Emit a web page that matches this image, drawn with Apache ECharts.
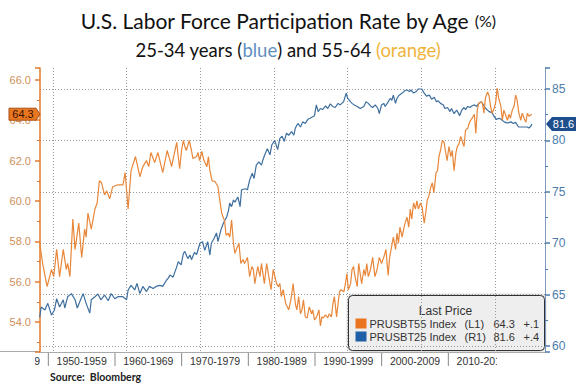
<!DOCTYPE html>
<html><head><meta charset="utf-8">
<script src="https://cdn.jsdelivr.net/npm/echarts@6/dist/echarts.min.js"></script>
<style>html,body{margin:0;padding:0;background:#fff}#c{width:576px;height:388px}</style>
</head><body><div id="c"></div>
<script>
// PRUSBT55 : 55-64 years (left axis, orange)
const years55 = [
1948.2,1948.6,1949.2,1949.8,1950.1,1950.5,1950.9,1951.4,1951.8,1952.0,
1952.3,1952.7,1953.0,1953.5,1953.9,1954.3,1954.5,1954.75,1955.2,1955.7,
1956.0,1956.3,1956.6,1957.0,1957.3,1957.7,1958.1,1958.8,1959.5,1959.8,
1960.2,1960.6,1961.2,1961.8,1962.2,1962.7,1963.0,1963.3,1963.8,1964.25,
1964.9,1965.5,1965.9,1966.1,1966.5,1966.8,1967.0,1967.2,1967.45,1967.7,
1967.9,1968.1,1968.5,1968.8,1969.0,1969.5,1969.7,1969.9,1970.2,1970.5,
1970.9,1971.1,1971.3,1971.6,1972.0,1972.4,1972.7,1972.9,1973.3,1973.5,
1973.8,1974.0,1974.25,1974.5,1974.7,1974.9,1975.25,1975.5,1975.8,1976.0,
1976.4,1976.7,1977.0,1977.2,1977.4,1977.8,1978.1,1978.3,1978.7,1979.0,
1979.3,1979.6,1979.9,1980.35,1980.6,1980.8,1981.0,1981.25,1981.6,1982.0,
1982.3,1982.6,1982.9,1983.1,1983.35,1983.6,1983.8,1984.0,1984.25,1984.5,
1984.8,1985.1,1985.25,1985.5,1985.8,1986.1,1986.3,1986.5,1986.7,1987.0,
1987.3,1987.5,1987.8,1988.0,1988.2,1988.5,1988.7,1988.9,1989.1,1989.5,
1989.7,1989.9,1990.1,1990.4,1990.6,1990.8,1991.0,1991.3,1991.5,1991.7,
1991.9,1992.2,1992.4,1992.6,1992.8,1993.1,1993.4,1993.7,1994.0,1994.3,
1994.6,1994.9,1995.2,1995.5,1995.7,1995.9,1996.2,1996.5,1996.7,1996.9,
1997.1,1997.4,1997.6,1997.8,1998.05,1998.3,1998.5,1998.7,1998.95,1999.2,
1999.4,1999.6,1999.9,2000.1,2000.4,2000.6,2000.8,2001.0,2001.3,2001.5,
2001.7,2002.0,2002.2,2002.4,2002.6,2002.85,2003.1,2003.3,2003.5,2003.75,
2004.0,2004.2,2004.45,2004.7,2004.9,2005.1,2005.35,2005.6,2005.8,2006.0,
2006.3,2006.5,2006.7,2006.9,2007.2,2007.4,2007.6,2007.8,2008.1,2008.3,
2008.5,2008.7,2009.0,2009.2,2009.4,2009.6,2009.9,2010.1,2010.3,2010.5,
2010.8,2011.0,2011.2,2011.5,2011.7,2011.9,2012.1,2012.35,2012.6,2012.8,
2013.0,2013.25,2013.5,2013.7,2013.95,2014.2,2014.4,2014.6,2015.0
];
const rate55 = [
57.9,56.9,55.75,56.6,56.25,57.6,56.25,57.6,56.6,56.9,
56.25,59.1,57.6,58.9,57.2,58.6,58.2,59.4,58.6,59.6,
59.9,61.0,60.9,60.3,60.5,60.1,60.7,60.8,60.8,61.4,
59.6,61.5,62.2,61.2,61.7,62.0,61.7,62.4,61.9,62.4,
61.4,62.5,62.0,61.7,62.4,62.9,62.2,61.6,62.5,63.0,
62.7,62.5,63.0,62.5,62.1,62.2,62.4,62.0,62.45,62.0,
61.7,62.2,61.5,61.0,60.96,60.7,59.9,59.4,59.0,58.3,
58.4,58.2,59.05,57.9,57.4,57.6,57.9,56.9,57.1,56.9,
57.2,56.25,56.75,56.6,55.9,56.75,56.25,56.9,55.9,56.9,
56.25,55.6,56.6,55.9,55.75,55.9,55.26,55.6,54.9,54.6,
55.1,55.9,54.9,54.6,55.26,54.4,54.6,55.1,54.25,54.2,
54.75,54.4,54.6,54.1,54.25,54.6,53.8,54.25,54.2,54.35,
54.2,54.4,54.25,54.9,55.26,54.25,54.9,55.5,55.6,55.5,
55.9,56.4,55.6,55.9,56.6,56.75,56.25,55.75,56.9,56.4,
55.9,56.6,56.3,56.9,56.25,56.6,57.2,56.25,56.6,57.2,
56.9,57.2,57.6,56.3,57.2,57.6,58.2,57.6,58.4,57.9,
58.7,58.2,58.6,58.9,59.2,58.7,59.6,59.1,59.9,59.6,
60.0,59.6,59.9,59.7,58.9,59.4,60.05,60.2,60.7,60.9,
60.4,61.4,61.5,62.2,62.5,63.0,62.9,62.4,62.0,62.7,
62.2,62.5,61.5,62.4,62.7,62.8,63.2,62.9,62.7,63.5,
63.6,63.85,64.0,64.1,64.3,63.35,64.5,64.85,64.9,64.85,
64.35,65.1,65.4,65.2,64.7,64.35,64.6,64.9,65.6,65.1,
64.7,64.0,64.5,64.2,64.0,64.3,64.1,64.5,64.7,65.25,
65.0,64.35,64.0,64.35,64.1,63.9,64.35,64.2,64.3
];
// PRUSBT25 : 25-34 years (right axis, blue)
const years25 = [
1948.2,1948.4,1948.9,1949.3,1949.8,1950.2,1950.5,1950.9,1951.4,1951.6,
1952.0,1952.5,1953.0,1953.3,1953.75,1954.1,1954.5,1955.0,1955.2,1955.7,
1956.1,1956.5,1957.0,1957.5,1957.9,1958.4,1958.8,1959.5,1960.0,1960.2,
1960.6,1961.1,1961.4,1961.8,1962.2,1962.7,1963.1,1963.6,1964.0,1964.5,
1964.9,1965.4,1965.65,1965.9,1966.3,1966.8,1967.0,1967.4,1967.7,1967.9,
1968.3,1968.6,1968.8,1969.2,1969.5,1969.95,1970.3,1970.6,1971.0,1971.3,
1971.5,1971.9,1972.2,1972.4,1972.8,1973.1,1973.6,1973.8,1974.0,1974.25,
1974.5,1974.7,1975.1,1975.4,1975.6,1976.1,1976.4,1976.7,1977.05,1977.3,
1977.6,1977.95,1978.3,1978.5,1978.75,1979.1,1979.45,1979.7,1980.1,1980.5,
1980.8,1981.1,1981.4,1981.7,1982.0,1982.4,1982.7,1982.9,1983.25,1983.6,
1983.9,1984.25,1984.6,1984.9,1985.25,1985.5,1985.75,1986.0,1986.3,1986.6,
1987.0,1987.3,1987.65,1987.95,1988.3,1988.7,1989.0,1989.2,1989.45,1989.8,
1990.0,1990.4,1990.6,1990.9,1991.3,1991.7,1992.2,1992.5,1992.8,1993.1,
1993.4,1993.75,1994.1,1994.3,1994.6,1994.9,1995.1,1995.5,1995.8,1996.0,
1996.2,1996.5,1996.7,1997.0,1997.4,1997.8,1998.05,1998.4,1998.6,1998.95,
1999.3,1999.6,2000.06,2000.4,2000.7,2001.1,2001.4,2001.75,2002.05,2002.3,
2002.6,2003.0,2003.2,2003.55,2003.9,2004.1,2004.45,2004.8,2005.0,2005.2,
2005.5,2005.8,2006.0,2006.3,2006.6,2006.85,2007.2,2007.5,2007.8,2008.1,
2008.3,2008.5,2008.75,2009.2,2009.6,2009.9,2010.2,2010.6,2010.9,2011.25,
2011.6,2011.8,2012.15,2012.5,2012.8,2013.2,2013.5,2013.8,2014.1,2014.4,
2014.6,2014.9,2015.0
];
const rate25 = [
62.8,63.8,63.5,64.15,63.0,63.5,64.6,63.8,64.5,63.7,
64.8,65.1,64.5,63.7,64.5,65.1,64.15,63.2,64.5,64.8,
65.06,64.5,64.96,64.4,65.1,64.6,64.8,64.8,64.5,65.45,
65.9,65.45,66.1,65.1,65.8,65.3,65.8,65.6,65.8,65.9,
65.8,66.4,66.6,66.9,66.7,67.7,68.2,67.9,69.0,69.2,
68.5,68.85,68.4,69.1,68.9,70.0,70.15,69.3,70.15,68.85,
70.0,70.5,71.0,70.15,71.3,71.9,72.6,73.1,73.9,73.55,
74.2,74.0,74.5,73.55,75.2,75.3,75.2,76.15,76.8,76.3,
77.6,77.9,77.6,78.1,78.6,79.2,78.6,79.55,80.0,79.1,
80.2,80.4,79.9,80.7,80.5,80.85,80.5,81.2,81.65,81.3,
81.8,81.65,82.05,82.15,82.3,82.4,83.45,82.8,83.1,83.0,
83.35,83.1,83.55,83.3,83.2,83.6,83.45,83.6,83.75,84.6,
84.1,83.75,83.6,83.45,83.3,83.1,83.3,83.75,83.6,83.35,
83.2,83.45,83.1,82.6,83.45,83.6,83.3,83.75,84.1,83.9,
84.4,83.6,84.1,84.4,84.6,84.85,84.9,84.75,84.9,84.6,
84.75,85.0,85.0,84.6,84.3,84.4,84.0,84.2,83.75,83.85,
83.6,83.45,83.1,83.2,82.8,83.1,82.6,82.95,82.7,82.4,
82.95,83.2,83.0,83.3,83.2,83.35,83.45,83.3,83.6,83.75,
83.6,83.35,83.1,82.8,82.7,82.3,82.05,82.15,82.0,81.8,
81.7,81.7,81.8,81.65,81.75,81.3,81.3,81.3,81.3,81.3,
81.2,81.4,81.6
];
const decadeStarts = [1940,1950,1960,1970,1980,1990,2000,2010];
const seriesNames = ['PRUSBT55 Index','PRUSBT25 Index'];
const axisTags = ['(L1)','(R1)'];
const changes = ['+.1','+.4'];

const C_OR = '#e8873a', C_BL = '#3e6f9f';
const last55 = rate55[rate55.length-1], last25 = rate25[rate25.length-1];
const FONT = 'Liberation Sans';
const dotted = {color:'#9a9a9a', type:[1,2], width:1};

const chart = echarts.init(document.getElementById('c'), null, {renderer:'svg'});
const tw = {fontFamily:'Lato', fontWeight:'normal', color:'#111'};
const option = {
  animation:false,
  backgroundColor:'#ffffff',
  title:[
    {text:'{m|U.S. Labor Force Participation Rate by Age }{p|(%)}', left:'center', top:5,
     textStyle:{fontWeight:'normal', rich:{m:Object.assign({fontSize:21}, tw), p:Object.assign({fontSize:16}, tw)}}},
    {text:'{k|25-34 years (}{b|blue}{k|) and 55-64 }{o|(orange)}', left:'center', top:35,
     textStyle:{fontWeight:'normal', rich:{k:Object.assign({fontSize:18.5}, tw), b:Object.assign({}, tw, {fontSize:18.5, color:'#5f8fc0'}), o:Object.assign({}, tw, {fontSize:18.5, color:'#f0b43c'})}}}
  ],
  grid:[
    {left:40, right:31, top:68, bottom:36, containLabel:false, outerBoundsMode:'none'},
    {left:35, right:79, top:352, height:20, containLabel:false, outerBoundsMode:'none'}
  ],
  xAxis:[
    {type:'value', gridIndex:0, min:1948.24, max:2016.79, minInterval:10, maxInterval:10,
     axisLine:{show:true, lineStyle:{color:'#aaaaaa', width:1}}, axisTick:{show:false}, axisLabel:{show:false},
     splitLine:{show:true, showMinLine:false, showMaxLine:false, lineStyle:dotted}},
    {type:'value', gridIndex:1, min:1948.0, max:2017.3, show:false}
  ],
  yAxis:[
    {type:'value', gridIndex:0, position:'left', min:52.51, max:66.59, minInterval:2, maxInterval:2,
     axisLine:{show:true, lineStyle:{color:'#e07b2e', width:1.5}},
     axisTick:{show:true, length:5, lineStyle:{color:'#e07b2e', width:1.5}},
     minorTick:{show:true, splitNumber:2, length:3, lineStyle:{color:'#e07b2e', width:1}},
     axisLabel:{showMinLabel:false, showMaxLabel:false, formatter:v=>v.toFixed(1), color:'#cf8f5a', fontSize:11, fontFamily:FONT, margin:9},
     splitLine:{show:false}},
    {type:'value', gridIndex:0, position:'right', min:59.42, max:87.04, minInterval:5, maxInterval:5,
     axisLine:{show:true, lineStyle:{color:'#7d9cc0', width:1}},
     axisTick:{show:true, length:5, lineStyle:{color:'#4c7bab', width:1.5}},
     minorTick:{show:true, splitNumber:2, length:3, lineStyle:{color:'#4c7bab', width:1}},
     axisLabel:{showMinLabel:false, showMaxLabel:false, formatter:v=>String(Math.round(v)), color:'#4c7bab', fontSize:12, fontFamily:FONT, margin:7},
     splitLine:{show:true, showMinLine:false, showMaxLine:false, lineStyle:dotted}},
    {type:'value', gridIndex:1, min:0, max:1, show:false}
  ],
  series:[
    {name:seriesNames[1], type:'line', xAxisIndex:0, yAxisIndex:1, showSymbol:false, symbol:'none', silent:true,
     data: years25.map((y,i)=>[y, rate25[i]]), lineStyle:{color:C_BL, width:1.2}, z:3},
    {name:seriesNames[0], type:'line', xAxisIndex:0, yAxisIndex:0, showSymbol:false, symbol:'none', silent:true,
     data: years55.map((y,i)=>[y, rate55[i]]), lineStyle:{color:C_OR, width:1.2}, z:4},
    {type:'custom', xAxisIndex:1, yAxisIndex:2, clip:true, silent:true,
     data: decadeStarts.map(d=>[d, 0.5]),
     renderItem:function(params, api){
       const d = api.value(0);
       const t = api.coord([d, 0.95]);
       const b = api.coord([d, 0.3]);
       const m = api.coord([d + 5, 0.55]);
       return {type:'group', children:[
         {type:'line', shape:{x1:t[0], y1:t[1], x2:b[0], y2:b[1]}, style:{stroke:'#888', lineWidth:1}},
         {type:'text', x:m[0], y:m[1], style:{text: d + '-' + (d+9), fill:'#333', fontSize:10.5, fontFamily:FONT, align:'center', verticalAlign:'middle'}}
       ]};
     }}
  ],
  graphic:[
    {type:'line', id:'baseL', shape:{x1:0, y1:351.5, x2:40, y2:351.5}, style:{stroke:'#aaaaaa', lineWidth:1}},
    {type:'text', id:'src', left:50, top:371, style:{text:'Source:  Bloomberg', fill:'#222', font:'bold 10.5px Lato'}},
    {type:'group', id:'legendBox', left:348, top:295, z:100, children:[
      {type:'rect', shape:{x:0, y:0, width:196, height:55, r:4}, style:{fill:'#eeeeee', stroke:'#333333', lineWidth:1, shadowBlur:3, shadowColor:'rgba(0,0,0,0.35)'}},
      {type:'text', x:97, y:15, style:{text:'Last Price', fill:'#333', fontSize:12, fontFamily:FONT, align:'center', verticalAlign:'middle'}},
      {type:'rect', shape:{x:7, y:23, width:11, height:10}, style:{fill:'#ea7420'}},
      {type:'text', x:21, y:28, style:{text:seriesNames[0], fill:'#333', fontSize:11, fontFamily:FONT, verticalAlign:'middle'}},
      {type:'text', x:116, y:28, style:{text:axisTags[0], fill:'#333', fontSize:11, fontFamily:FONT, verticalAlign:'middle'}},
      {type:'text', x:145, y:28, style:{text:last55.toFixed(1), fill:'#333', fontSize:11, fontFamily:FONT, verticalAlign:'middle'}},
      {type:'text', x:175, y:28, style:{text:changes[0], fill:'#333', fontSize:11, fontFamily:FONT, verticalAlign:'middle'}},
      {type:'rect', shape:{x:7, y:36, width:11, height:10}, style:{fill:'#1f5fa8'}},
      {type:'text', x:21, y:41.5, style:{text:seriesNames[1], fill:'#333', fontSize:11, fontFamily:FONT, verticalAlign:'middle'}},
      {type:'text', x:116, y:41.5, style:{text:axisTags[1], fill:'#333', fontSize:11, fontFamily:FONT, verticalAlign:'middle'}},
      {type:'text', x:145, y:41.5, style:{text:last25.toFixed(1), fill:'#333', fontSize:11, fontFamily:FONT, verticalAlign:'middle'}},
      {type:'text', x:175, y:41.5, style:{text:changes[1], fill:'#333', fontSize:11, fontFamily:FONT, verticalAlign:'middle'}}
    ]}
  ]
};
chart.setOption(option);

// last-value tags on the axes, positioned through the axis scales
const yL = chart.convertToPixel({yAxisIndex:0}, last55);
const yR = chart.convertToPixel({yAxisIndex:1}, last25);
chart.setOption({graphic:[
  {type:'polygon', id:'tagL', z:120, shape:{points:[[9,yL-6],[36,yL-6],[40,yL],[36,yL+6],[9,yL+6]]}, style:{fill:'#e8771f', stroke:'#a8501a', lineWidth:1}},
  {type:'text', id:'tagLt', z:121, x:23, y:yL, style:{text:last55.toFixed(1), fill:'#3b1200', fontSize:11, fontFamily:FONT, align:'center', verticalAlign:'middle'}},
  {type:'polygon', id:'tagR', z:120, shape:{points:[[546,yR],[552,yR-7],[576,yR-7],[576,yR+7],[552,yR+7]]}, style:{fill:'#1f4e8c'}},
  {type:'text', id:'tagRt', z:121, x:563.5, y:yR, style:{text:last25.toFixed(1), fill:'#ffffff', fontSize:11, fontFamily:FONT, align:'center', verticalAlign:'middle'}}
]});
</script>
</body></html>
